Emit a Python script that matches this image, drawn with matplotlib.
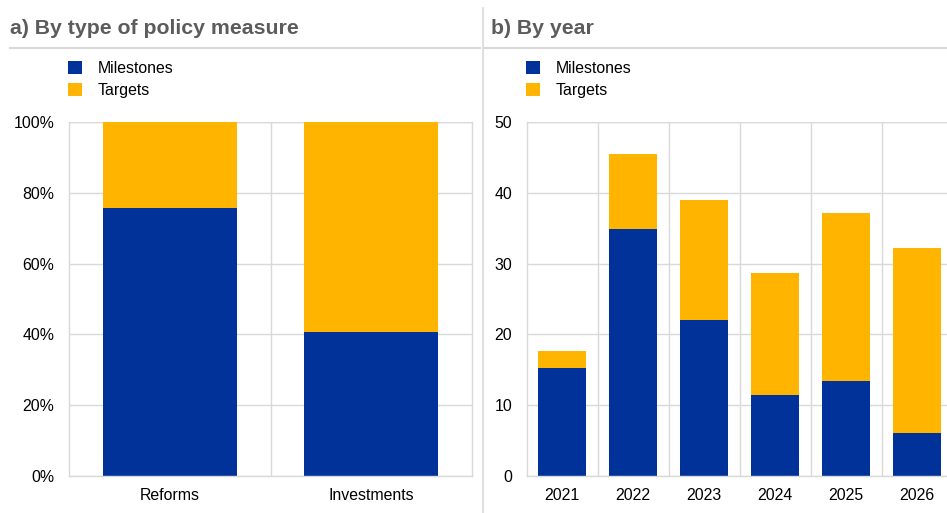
import matplotlib
matplotlib.use("Agg")
import matplotlib.pyplot as plt
from matplotlib.patches import Patch
from matplotlib.lines import Line2D
import numpy as np

plt.rcParams['font.family'] = ['Liberation Sans', 'DejaVu Sans']

# Data
types = ["Reforms", "Investments"]
type_milestones = [75.7, 40.7]
type_targets = [24.3, 59.3]

years = ["2021", "2022", "2023", "2024", "2025", "2026"]
year_milestones = [15.3, 34.9, 22.0, 11.5, 13.4, 6.1]
year_targets = [2.3, 10.6, 17.0, 17.2, 23.8, 26.1]

series_names = ["Milestones", "Targets"]
BLUE = "#003299"
YELLOW = "#FFB400"
GRID = "#d9d9d9"
TITLE = "#5c5c5c"
FS = 11.4

W, H = 947, 513
fig = plt.figure(figsize=(W / 100, H / 100), dpi=100)


def px_axes(left, right, top, bottom):
    return fig.add_axes([left / W, (H - bottom) / H, (right - left) / W, (bottom - top) / H])


def style(ax):
    for s in ax.spines.values():
        s.set_color(GRID)
        s.set_linewidth(1)
    ax.spines['top'].set_visible(False)
    ax.tick_params(axis='both', length=0, labelsize=FS, colors='black')
    ax.tick_params(axis='y', pad=10.5)
    ax.tick_params(axis='x', pad=9)
    ax.set_axisbelow(True)
    ax.grid(axis='y', color=GRID, linewidth=1)


# Left panel
ax1 = px_axes(69, 472, 122, 476)
x1 = np.arange(len(types))
ax1.bar(x1, type_milestones, width=0.667, color=BLUE, label=series_names[0])
ax1.bar(x1, type_targets, width=0.667, bottom=type_milestones, color=YELLOW, label=series_names[1])
ax1.set_xlim(-0.5, 1.5)
ax1.set_ylim(0, 100)
ax1.set_yticks(np.arange(0, 101, 20))
ax1.set_yticklabels([f"{v}%" for v in range(0, 101, 20)])
ax1.set_xticks(x1)
ax1.set_xticklabels(types)
style(ax1)
ax1.spines['right'].set_visible(True)
ax1.axvline(0.5, color=GRID, linewidth=1, zorder=0)
ax1.axhline(100, color=GRID, linewidth=1, zorder=0)

# Right panel
ax2 = px_axes(526.7, 947, 122, 476)
x2 = np.arange(len(years))
ax2.bar(x2, year_milestones, width=0.67, color=BLUE, label=series_names[0])
ax2.bar(x2, year_targets, width=0.67, bottom=year_milestones, color=YELLOW, label=series_names[1])
ax2.set_xlim(-0.5, -0.5 + 420.3 / 71)
ax2.set_ylim(0, 50)
ax2.set_yticks(np.arange(0, 51, 10))
ax2.set_xticks(x2)
ax2.set_xticklabels(years)
style(ax2)
ax2.spines['right'].set_visible(False)
for b in np.arange(0.5, 5.0, 1):
    ax2.axvline(b, color=GRID, linewidth=1, zorder=0)
ax2.axhline(50, color=GRID, linewidth=1, zorder=0)

# Legends
handles = [Patch(facecolor=BLUE, edgecolor='none'), Patch(facecolor=YELLOW, edgecolor='none')]
for lx in (68, 526):
    fig.legend(handles, series_names, loc='upper left',
               bbox_to_anchor=(lx / W, (H - 61) / H), frameon=False,
               fontsize=FS, handlelength=0.9, handleheight=0.9,
               handletextpad=0.95, labelspacing=0.42, borderpad=0, borderaxespad=0)

# Titles
fig.text(10 / W, (H - 28) / H, "a) By type of policy measure", fontsize=15.3,
         fontweight='bold', color=TITLE, va='center', ha='left')
fig.text(491 / W, (H - 28) / H, "b) By year", fontsize=15.3,
         fontweight='bold', color=TITLE, va='center', ha='left')

# Separator lines
fig.add_artist(Line2D([10 / W, 480 / W], [(H - 47.5) / H] * 2, color=GRID, linewidth=1.5))
fig.add_artist(Line2D([484 / W, 1.0], [(H - 47.5) / H] * 2, color=GRID, linewidth=1.5))
fig.add_artist(Line2D([482.5 / W] * 2, [0, (H - 8) / H], color=GRID, linewidth=1.2))

fig.savefig("out.png", dpi=100)
